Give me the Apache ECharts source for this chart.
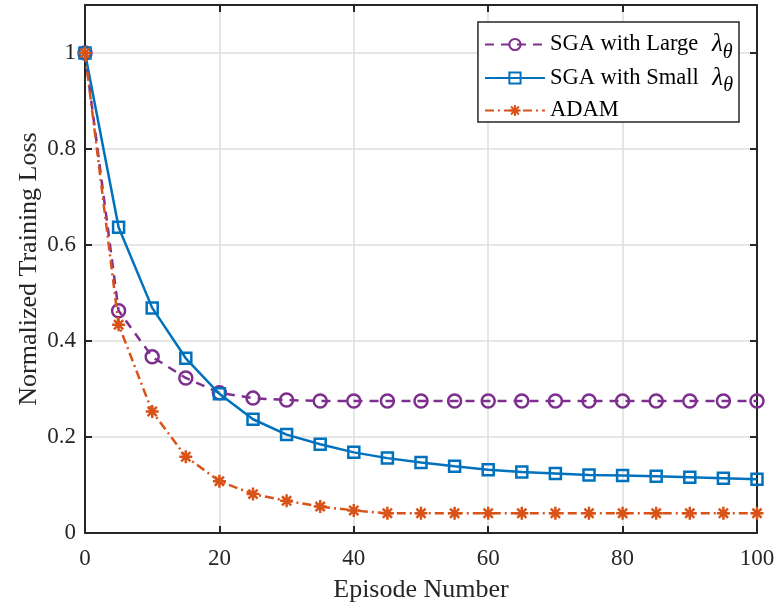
<!DOCTYPE html>
<html>
<head>
<meta charset="utf-8">
<script src="https://cdn.jsdelivr.net/npm/echarts@6/dist/echarts.min.js"></script>
<style>
  html, body { margin: 0; padding: 0; background: #fff; }
  #chart { width: 778px; height: 609px; }
</style>
</head>
<body>
<div id="chart"></div>
<script>
// Training episodes (x) and normalized loss for each optimiser
const episodes = [0, 5, 10, 15, 20, 25, 30, 35, 40, 45, 50, 55, 60, 65, 70, 75, 80, 85, 90, 95, 100];
const sgaLarge = [1.000, 0.463, 0.367, 0.323, 0.292, 0.281, 0.277, 0.275, 0.275, 0.275, 0.275, 0.275, 0.275, 0.275, 0.275, 0.275, 0.275, 0.275, 0.275, 0.275, 0.275];
const sgaSmall = [1.000, 0.637, 0.469, 0.364, 0.290, 0.237, 0.205, 0.185, 0.168, 0.156, 0.147, 0.139, 0.132, 0.127, 0.124, 0.121, 0.120, 0.118, 0.116, 0.114, 0.112];
const adam     = [1.000, 0.434, 0.253, 0.159, 0.108, 0.081, 0.067, 0.055, 0.047, 0.041, 0.041, 0.041, 0.041, 0.041, 0.041, 0.041, 0.041, 0.041, 0.041, 0.041, 0.041];

const xTicks = [0, 20, 40, 60, 80, 100];
const yTicks = [0, 0.2, 0.4, 0.6, 0.8, 1];

const seriesNames = [
  'SGA with Large {lam|λ}{sub|θ}',
  'SGA with Small {lam|λ}{sub|θ}',
  'ADAM'
];

const FONT = '"Liberation Serif", "Times New Roman", serif';
const PURPLE = '#7E2F8E', BLUE = '#0072BD', ORANGE = '#D95319';
const INK = '#262626';

const pairs = ys => episodes.map((x, i) => [x, ys[i]]);

const ASTERISK = 'path://M0,-10L0,10M-10,0L10,0M-7.07,-7.07L7.07,7.07M-7.07,7.07L7.07,-7.07';

const chart = echarts.init(document.getElementById('chart'), null, { renderer: 'canvas' });

// Boxed axes with inward ticks on all four sides
function frame(extra) {
  return Object.assign({
    axisLine: { show: true, onZero: false, lineStyle: { color: INK, width: 2 } },
    axisTick: { show: true, inside: true, length: 7, lineStyle: { color: INK, width: 2 } },
    splitLine: { show: false },
    nameMoveOverlap: false
  }, extra);
}

chart.setOption({
  animation: false,
  backgroundColor: '#ffffff',
  grid: { left: 85, right: 21, top: 5, bottom: 76, containLabel: false, outerBoundsMode: 'none' },
  legend: {
    orient: 'vertical',
    right: 39,
    top: 22,
    data: seriesNames,
    backgroundColor: '#ffffff',
    borderColor: INK,
    borderWidth: 1.5,
    borderRadius: 0,
    padding: [10, 6, 0, 6],
    itemWidth: 60,
    itemHeight: 14,
    itemGap: 3,
    // plain entries get a taller line so the rows are evenly spaced
    formatter: name => (name.indexOf('{') < 0 ? '{plain|' + name + '}' : name),
    textStyle: {
      fontFamily: FONT,
      fontSize: 22.5,
      color: '#000',
      rich: {
        plain: { fontFamily: FONT, fontSize: 22.5, color: '#000', lineHeight: 36 },
        lam: { fontFamily: FONT, fontSize: 25, fontStyle: 'italic', color: '#000', padding: [0, 0, 0, 8] },
        sub: { fontFamily: FONT, fontSize: 20, fontStyle: 'italic', color: '#000', padding: [16, 0, 0, 0] }
      }
    }
  },
  xAxis: [
    frame({
      type: 'value', min: 0, max: 100, interval: 20, position: 'bottom',
      name: 'Episode Number', nameLocation: 'middle', nameGap: 44,
      nameTextStyle: { fontFamily: FONT, fontSize: 26, color: INK },
      axisLabel: {
        fontFamily: FONT, fontSize: 23, color: INK, margin: 14,
        formatter: v => (xTicks.includes(v) ? String(v) : '')
      },
      splitLine: { show: true, lineStyle: { color: '#dedede', width: 1.5 } }
    }),
    frame({
      type: 'value', min: 0, max: 100, interval: 20, position: 'top',
      axisLabel: { show: false }
    })
  ],
  yAxis: [
    frame({
      type: 'value', min: 0, max: 1.1, interval: 0.2, position: 'left',
      name: 'Normalized Training Loss', nameLocation: 'middle', nameGap: 43,
      nameTextStyle: { fontFamily: FONT, fontSize: 26, color: INK },
      axisLabel: {
        fontFamily: FONT, fontSize: 23, color: INK, margin: 9,
        showMaxLabel: false,
        formatter: v => {
          const t = yTicks.find(k => Math.abs(k - v) < 1e-9);
          return t === undefined ? '' : String(t);
        }
      },
      splitLine: { show: true, lineStyle: { color: '#dedede', width: 1.5 } }
    }),
    frame({
      type: 'value', min: 0, max: 1.1, interval: 0.2, position: 'right',
      axisLabel: { show: false }
    })
  ],
  series: [
    {
      name: seriesNames[0], type: 'line', data: pairs(sgaLarge),
      symbol: 'circle', symbolSize: 13,
      lineStyle: { color: PURPLE, width: 2.5, type: [9, 7] },
      itemStyle: { color: 'rgba(0,0,0,0)', borderColor: PURPLE, borderWidth: 2.5 },
      z: 2
    },
    {
      name: seriesNames[1], type: 'line', data: pairs(sgaSmall),
      symbol: 'rect', symbolSize: 11,
      lineStyle: { color: BLUE, width: 2.5, type: 'solid' },
      itemStyle: { color: 'rgba(0,0,0,0)', borderColor: BLUE, borderWidth: 2.5 },
      z: 3
    },
    {
      name: seriesNames[2], type: 'line', data: pairs(adam),
      symbol: ASTERISK, symbolSize: 13,
      lineStyle: { color: ORANGE, width: 2.5, type: [9, 4, 2, 4] },
      itemStyle: { color: ORANGE, borderColor: ORANGE, borderWidth: 2.5 },
      z: 4
    }
  ]
});
</script>
</body>
</html>
